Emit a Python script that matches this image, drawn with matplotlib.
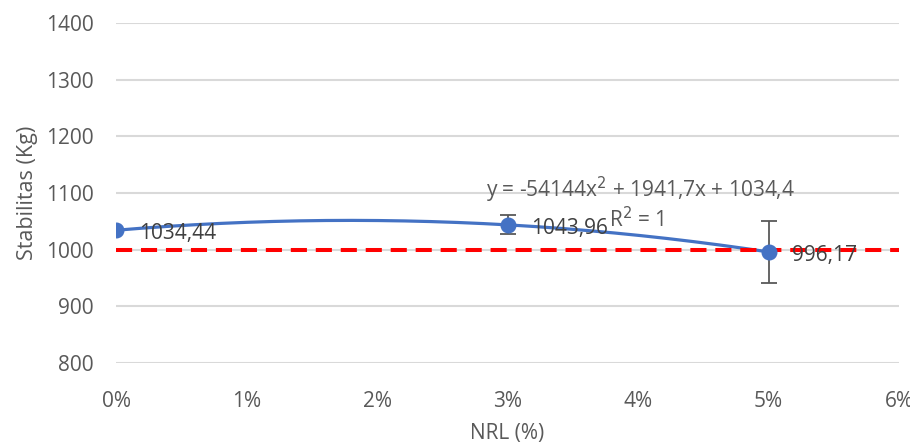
import matplotlib
matplotlib.use('Agg')
import matplotlib.pyplot as plt
import numpy as np

# data
nrl = [0.0, 0.03, 0.05]
stabilitas = [1034.44, 1043.96, 996.17]
err = [0.0, 17.0, 55.0]
labels = ['1034,44', '1043,96', '996,17']
batas = 1000          # minimum requirement line
xticks = [0, 0.01, 0.02, 0.03, 0.04, 0.05, 0.06]
yticks = [800, 900, 1000, 1100, 1200, 1300, 1400]

plt.rcParams['font.family'] = ['Open Sans', 'DejaVu Sans']

fig = plt.figure(figsize=(9.1, 4.46), dpi=100)
ax = fig.add_axes([0.1275, 0.186, 0.8605, 0.762])

grey = '#595959'
blue = '#4472C4'

for yt in yticks:
    ax.axhline(yt, color='#d9d9d9', lw=1.5, zorder=0)

# poly trendline
coef = np.polyfit(nrl, stabilitas, 2)
xs = np.linspace(nrl[0], nrl[-1], 200)
ax.plot(xs, np.polyval(coef, xs), color=blue, lw=2.3, zorder=3)

ax.plot([0, 0.06], [batas, batas], color='#ff0000', lw=2.9, dashes=(4, 2.2), zorder=4,
        clip_on=False)

ax.errorbar(nrl, stabilitas, yerr=err, fmt='none', ecolor=grey, elinewidth=1.3,
            capsize=6, capthick=1.3, zorder=2)
ax.plot(nrl, stabilitas, 'o', color=blue, ms=10.5, zorder=5)

for x, y, t in zip(nrl, stabilitas, labels):
    ax.text(x + 0.0018, y - 6, t, fontsize=15, color='#404040', va='center', ha='left', zorder=6)

ax.text(0.02835, 1106, 'y = -54144x$^2$ + 1941,7x + 1034,4', fontsize=15, color=grey,
        va='center', ha='left')
ax.text(0.0378, 1054, 'R$^2$ = 1', fontsize=15, color=grey, va='center', ha='left')

ax.set_xlim(0, 0.06)
ax.set_ylim(800, 1400)
ax.set_xticks(xticks)
ax.set_xticklabels(['%d%%' % round(v * 100) for v in xticks])
ax.set_yticks(yticks)
ax.tick_params(length=0, labelsize=15, colors=grey, pad=20)
ax.tick_params(axis='y', pad=16)
for s in ax.spines.values():
    s.set_visible(False)

ax.set_xlabel('NRL (%)', fontsize=15, color=grey, labelpad=8)
ax.set_ylabel('Stabilitas (Kg)', fontsize=15.5, color=grey, labelpad=6)

fig.savefig('out.png', dpi=100)
